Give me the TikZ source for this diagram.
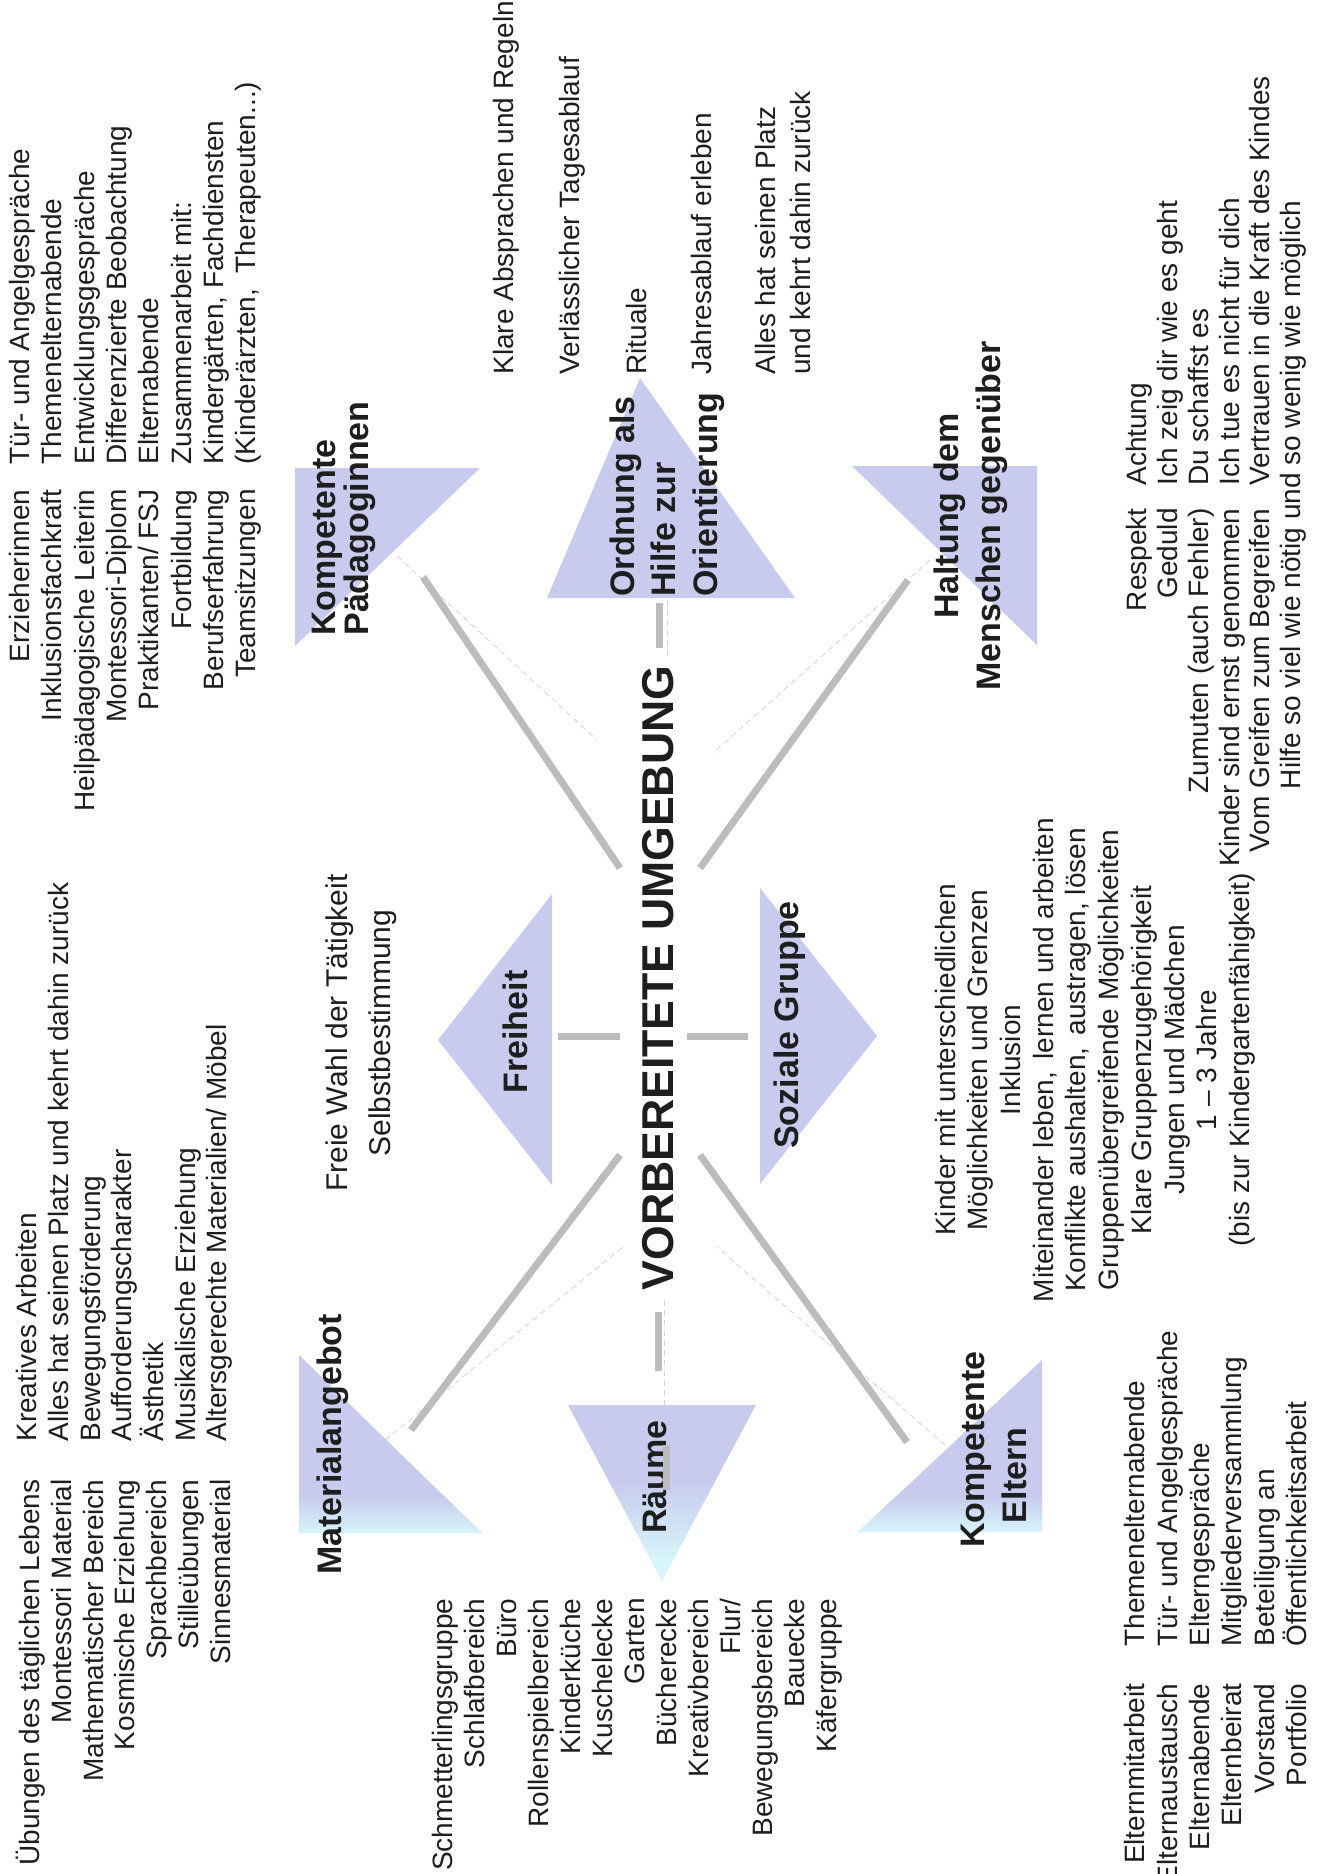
\documentclass[tikz,border=0pt]{standalone}
\usepackage{fontspec}
\setmainfont{Liberation Sans}
\definecolor{lav}{RGB}{200,202,238}
\definecolor{cy}{RGB}{214,246,250}
\definecolor{ln}{RGB}{188,188,188}
\definecolor{ink}{RGB}{30,30,30}
\begin{document}
\begin{tikzpicture}[x=0.5pt,y=-0.5pt,
  txt/.style={rotate=90, inner sep=0pt, text=ink},
  bodyA/.style={txt, font=\fontsize{14}{15.85}\selectfont},
  bodyB/.style={txt, font=\fontsize{14}{16.2}\selectfont},
  bodyC/.style={txt, font=\fontsize{14}{15.4}\selectfont},
  lbl/.style={txt, font=\bfseries\fontsize{17}{20.75}\selectfont},
  conn/.style={draw=ln, line width=3.5pt},
  faint/.style={draw=black!16, line width=0.4pt, dash pattern=on 3pt off 2pt}]
\fill[white] (0,0) rectangle (1322,1874);
\useasboundingbox (0,0) rectangle (1322,1874);

% ---------- triangles ----------
\coordinate (mA) at (299,1355); \coordinate (mB) at (299,1533); \coordinate (mC) at (482,1533);
\fill[lav] (mA) -- (mB) -- (mC) -- cycle;
\begin{scope}\clip (mA) -- (mB) -- (mC) -- cycle;
\shade[top color=lav, bottom color=cy] (290,1495) rectangle (490,1534);\end{scope}

\coordinate (rA) at (568,1405); \coordinate (rB) at (756,1405); \coordinate (rC) at (662,1580);
\fill[lav] (rA) -- (rB) -- (rC) -- cycle;
\begin{scope}\clip (rA) -- (rB) -- (rC) -- cycle;
\shade[top color=lav, bottom color=cy] (560,1480) rectangle (760,1560);
\fill[cy] (560,1559) rectangle (760,1581);\end{scope}

\coordinate (eA) at (1042,1360); \coordinate (eB) at (1042,1532); \coordinate (eC) at (858,1532);
\fill[lav] (eA) -- (eB) -- (eC) -- cycle;
\begin{scope}\clip (eA) -- (eB) -- (eC) -- cycle;
\shade[top color=lav, bottom color=cy] (850,1495) rectangle (1050,1533);\end{scope}

\coordinate (pA) at (295,468); \coordinate (pB) at (480,468); \coordinate (pC) at (295,646);
\fill[lav] (pA) -- (pB) -- (pC) -- cycle;

\coordinate (hA) at (852,466); \coordinate (hB) at (1037,466); \coordinate (hC) at (1037,645);
\fill[lav] (hA) -- (hB) -- (hC) -- cycle;

\coordinate (oA) at (640,378); \coordinate (oB) at (547,598); \coordinate (oC) at (795,598);
\fill[lav] (oA) -- (oB) -- (oC) -- cycle;

\coordinate (fA) at (438,1040); \coordinate (fB) at (552,894); \coordinate (fC) at (552,1185);
\fill[lav] (fA) -- (fB) -- (fC) -- cycle;

\coordinate (sA) at (877,1036); \coordinate (sB) at (760,888); \coordinate (sC) at (760,1184);
\fill[lav] (sA) -- (sB) -- (sC) -- cycle;

% ---------- faint guide lines ----------
\draw[faint] (397,556) -- (597,740);
\draw[faint] (930,560) -- (713,753);
\draw[faint] (385,1440) -- (623,1247);
\draw[faint] (945,1445) -- (717,1247);
\draw[faint] (667,600) -- (667,660);
\draw[faint] (664,1300) -- (664,1405);

% ---------- title ----------
\node[txt, font=\bfseries\fontsize{22.3}{26}\selectfont] (title) at (658,978) {VORBEREITETE UMGEBUNG};

% ---------- connectors ----------
\coordinate (ulA) at (423,577); \coordinate (ulB) at (620,868);
\coordinate (urA) at (908,580); \coordinate (urB) at (700,868);
\coordinate (llA) at (620,1155); \coordinate (llB) at (411,1430);
\coordinate (lrA) at (700,1155); \coordinate (lrB) at (907,1442);
\coordinate (tsA) at (659,603); \coordinate (tsB) at (659,648);
\coordinate (bsA) at (658,1312); \coordinate (bsB) at (658,1371);
\coordinate (fsA) at (558,1036); \coordinate (fsB) at (620,1036);
\coordinate (ssA) at (687,1036); \coordinate (ssB) at (748,1036);
\draw[conn] (ulA) -- (ulB);
\draw[conn] (urA) -- (urB);
\draw[conn] (llA) -- (llB);
\draw[conn] (lrA) -- (lrB);
\draw[conn] (tsA) -- (tsB);
\draw[conn] (bsA) -- (bsB);
\draw[conn] (fsA) -- (fsB);
\draw[conn] (ssA) -- (ssB);

% ---------- labels ----------
\node[lbl, anchor=west] (lmat) at (333,1575) {Materialangebot};
\node[lbl, anchor=west] (lraum) at (655,1534) {Räume};
\draw[conn] (666,1445) -- (666,1490);
\node[lbl, anchor=north west, align=left] (lelt) at (961,1548) {Kompetente\\\hspace*{12pt}Eltern};
\node[lbl, anchor=north west, align=left, font=\bfseries\fontsize{17}{16.5}\selectfont] (lpaed) at (312,636) {Kompetente\\Pädagoginnen};
\node[lbl, align=center, font=\bfseries\fontsize{17}{21}\selectfont] (lhalt) at (971,516) {Haltung dem\\Menschen gegenüber};
\node[lbl, anchor=north west, align=left] (lord) at (609,597) {Ordnung als\\Hilfe zur\\Orientierung};
\node[lbl] (lfrei) at (515,1032) {Freiheit};
\node[lbl] (lsoz) at (790,1025) {Soziale Gruppe};

% ---------- Material ----------
\node[bodyA, anchor=north east, align=right] (mat1) at (16,1479) {Übungen des täglichen Lebens\\Montessori Material\\Mathematischer Bereich\\Kosmische Erziehung\\Sprachbereich\\Stilleübungen\\Sinnesmaterial};
\node[bodyA, anchor=north west, align=left] (mat2) at (16,1442) {Kreatives Arbeiten\\Alles hat seinen Platz und kehrt dahin zurück\\Bewegungsförderung\\Aufforderungscharakter\\Ästhetik\\Musikalische Erziehung\\Altersgerechte Materialien/ Möbel};

% ---------- Räume ----------
\node[txt, font=\fontsize{14}{16}\selectfont, anchor=north east, align=right] (raum) at (432,1598) {Schmetterlingsgruppe\\Schlafbereich\\Büro\\Rollenspielbereich\\Kinderküche\\Kuschelecke\\Garten\\Bücherecke\\Kreativbereich\\Flur/\\Bewegungsbereich\\Bauecke\\Käfergruppe};

% ---------- Eltern ----------
\node[bodyB, anchor=north east, align=right] (elt1) at (1124,1683) {Elternmitarbeit\\Elternaustausch\\Elternabende\\Elternbeirat\\Vorstand\\Portfolio};
\node[bodyB, anchor=north west, align=left] (elt2) at (1124,1647) {Themenelternabende\\Tür- und Angelgespräche\\Elterngespräche\\Mitgliederversammlung\\Beteiligung an\\Öffentlichkeitsarbeit};

% ---------- Pädagoginnen ----------
\node[txt, font=\fontsize{14}{16.15}\selectfont, anchor=north east, align=right] (pae1) at (9,489) {Erzieherinnen\\Inklusionsfachkraft\\Heilpädagogische Leiterin\\Montessori-Diplom\\Praktikanten/ FSJ\\Fortbildung\\Berufserfahrung\\Teamsitzungen};
\node[txt, font=\fontsize{14}{16.15}\selectfont, anchor=north west, align=left] (pae2) at (9,465) {Tür- und Angelgespräche\\Themenelternabende\\Entwicklungsgespräche\\Differenzierte Beobachtung\\Elternabende\\Zusammenarbeit mit:\\Kindergärten, Fachdiensten\\(Kinderärzten, \ Therapeuten...)};

% ---------- Haltung ----------
\node[bodyC, anchor=north east, align=right] (hal1) at (1126,508) {Respekt\\Geduld\\Zumuten (auch Fehler)\\Kinder sind ernst genommen\\Vom Greifen zum Begreifen};
\node[bodyC, anchor=north west, align=left] (hal2) at (1126,486) {Achtung\\Ich zeig dir wie es geht\\Du schaffst es\\Ich tue es nicht für dich\\Vertrauen in die Kraft des Kindes};
\node[bodyC] (hal3) at (1293,495) {Hilfe so viel wie nötig und so wenig wie möglich};

% ---------- Ordnung ----------
\node[bodyA, anchor=west] (o1) at (506,375) {Klare Absprachen und Regeln};
\node[bodyA, anchor=west] (o2) at (572,375) {Verlässlicher Tagesablauf};
\node[bodyA, anchor=west] (o3) at (636,375) {Rituale};
\node[bodyA, anchor=west] (o4) at (701,375) {Jahresablauf erleben};
\node[txt, font=\fontsize{14}{17.5}\selectfont, anchor=north west, align=left] (o5) at (755,375) {Alles hat seinen Platz\\und kehrt dahin zurück};

% ---------- Freiheit ----------
\node[txt, font=\fontsize{15}{21.5}\selectfont, align=center] (frei) at (361,1033) {Freie Wahl der Tätigkeit\\Selbstbestimmung};

% ---------- Soziale Gruppe ----------
\node[txt, font=\fontsize{14}{16.35}\selectfont, align=center] (soz) at (1095,1060) {Kinder mit unterschiedlichen\\Möglichkeiten und Grenzen\\Inklusion\\Miteinander leben, \,lernen und arbeiten\\Konflikte aushalten, \,austragen, lösen\\Gruppenübergreifende Möglichkeiten\\Klare Gruppenzugehörigkeit\\Jungen und Mädchen\\1 – 3 Jahre\\(bis zur Kindergartenfähigkeit)};
\end{tikzpicture}
\end{document}
